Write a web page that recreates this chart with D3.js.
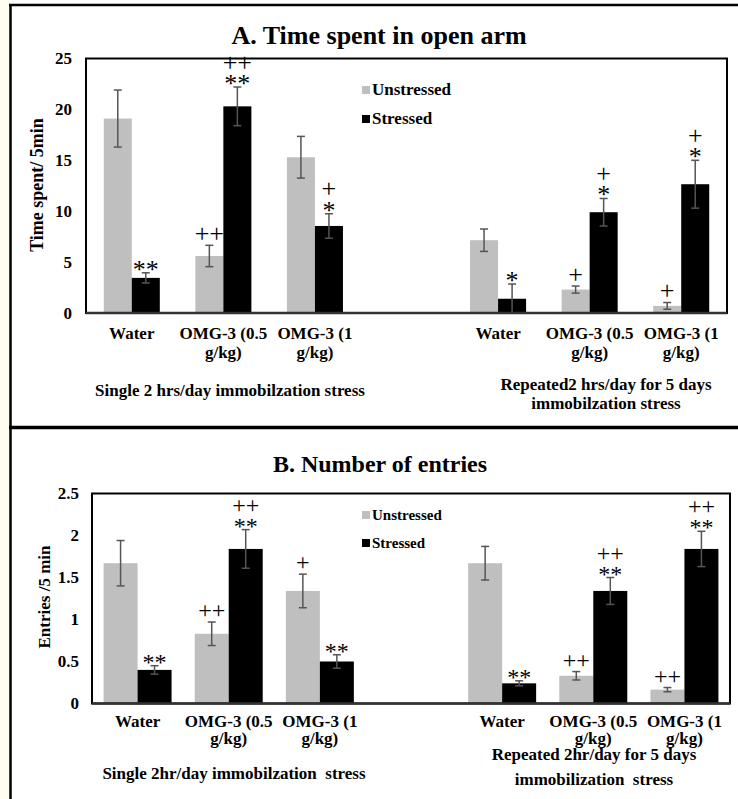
<!DOCTYPE html>
<html lang="en">
<head>
<meta charset="UTF-8">
<title>Time spent in open arm / Number of entries</title>
<script src="https://cdnjs.cloudflare.com/ajax/libs/d3/7.8.5/d3.min.js"></script>
<style>
  body { margin: 0; background: #fff; }
  svg text { font-family: "Liberation Serif", "Times New Roman", serif; white-space: pre; }
</style>
</head>
<body>
<svg id="chart" width="738" height="799"></svg>
<script>
    // categories on the x axis, the empty slot is the gap between the two stress protocols
    const categories = [["Water"], ["OMG-3 (0.5", "g/kg)"], ["OMG-3 (1", "g/kg)"], [],
        ["Water"], ["OMG-3 (0.5", "g/kg)"], ["OMG-3 (1", "g/kg)"]];
    const seriesNames = ["Unstressed", "Stressed"];
    const seriesColors = ["#bfbfbf", "#000000"];

    // A. Time spent in open arm
    const timeUnstressed = [19.1, 5.6, 15.3, null, 7.15, 2.3, 0.7];
    const timeUnstressedErr = [2.8, 1.05, 2.05, null, 1.1, 0.35, 0.33];
    const timeStressed = [3.45, 20.3, 8.55, null, 1.4, 9.9, 12.65];
    const timeStressedErr = [0.5, 1.9, 1.2, null, 1.45, 1.35, 2.35];
    const timeStarsU = ["", "", "", "", "", "", ""];
    const timePlusU = ["", "++", "", "", "", "+", "+"];
    const timeStarsS = ["**", "**", "*", "", "*", "*", "*"];
    const timePlusS = ["", "++", "+", "", "", "+", "+"];
    const timeTicks = [0, 5, 10, 15, 20, 25];
    const timeGroups = [["Single 2 hrs/day immobilzation stress"], ["Repeated2 hrs/day for 5 days", "immobilzation stress"]];

    // B. Number of entries
    const entUnstressed = [1.67, 0.83, 1.34, null, 1.67, 0.33, 0.165];
    const entUnstressedErr = [0.27, 0.14, 0.2, null, 0.2, 0.05, 0.025];
    const entStressed = [0.40, 1.84, 0.50, null, 0.24, 1.34, 1.84];
    const entStressedErr = [0.05, 0.23, 0.08, null, 0.03, 0.16, 0.21];
    const entStarsU = ["", "", "", "", "", "", ""];
    const entPlusU = ["", "++", "+", "", "", "++", "++"];
    const entStarsS = ["**", "**", "**", "", "**", "**", "**"];
    const entPlusS = ["", "++", "", "", "", "++", "++"];
    const entTicks = [0, 0.5, 1, 1.5, 2, 2.5];
    const entGroups = [["Single 2hr/day immobilzation  stress"], ["Repeated 2hr/day for 5 days", "immobilization  stress"]];

    const svg = d3.select("#chart");

    // outer figure frame
    svg.append("rect").attr("x", 0).attr("y", 0).attr("width", 9).attr("height", 799).attr("fill", "#fffdf0");
    svg.append("line").attr("x1", 10.5).attr("x2", 10.5).attr("y1", 4).attr("y2", 799)
        .attr("stroke", "#000").attr("stroke-width", 2.5);
    svg.append("line").attr("x1", 9).attr("x2", 738).attr("y1", 5).attr("y2", 5)
        .attr("stroke", "#000").attr("stroke-width", 2.5);
    svg.append("line").attr("x1", 9).attr("x2", 738).attr("y1", 427.5).attr("y2", 427.5)
        .attr("stroke", "#000").attr("stroke-width", 3.5);

    function drawPanel(p) {
        const g = svg.append("g");

        const x = d3.scaleBand().domain(d3.range(categories.length))
            .range([p.left, p.right]).paddingInner(p.pad).paddingOuter(p.pad / 2);
        const xs = d3.scaleBand().domain([0, 1]).range([0, x.bandwidth()]);
        const y = d3.scaleLinear().domain([0, p.ticks[p.ticks.length - 1]]).range([p.bottom, p.top]);

        // title
        g.append("text").attr("x", p.titleX).attr("y", p.titleY)
            .attr("text-anchor", "middle").attr("font-size", p.titleSize).attr("font-weight", "bold")
            .text(p.title);

        // y axis label
        g.append("text")
            .attr("transform", "translate(" + p.ylabX + "," + p.ylabY + ") rotate(-90)")
            .attr("text-anchor", "middle").attr("font-size", p.ylabSize).attr("font-weight", "bold")
            .text(p.ylabel);

        // bars
        const rows = [];
        categories.forEach(function(c, i) {
            [0, 1].forEach(function(s) {
                if (p.values[s][i] == null) return;
                rows.push({i: i, s: s, v: p.values[s][i], e: p.errors[s][i],
                    stars: p.stars[s][i], plus: p.plus[s][i]});
            });
        });

        g.selectAll("rect.bar").data(rows).enter().append("rect")
            .attr("class", "bar")
            .attr("x", d => x(d.i) + xs(d.s))
            .attr("width", xs.bandwidth())
            .attr("y", d => y(d.v))
            .attr("height", d => y(0) - y(d.v))
            .attr("fill", d => seriesColors[d.s]);

        // error bars
        const eb = g.selectAll("g.err").data(rows).enter().append("g").attr("class", "err")
            .attr("stroke", "#555").attr("stroke-width", 1.5);
        const cx = d => x(d.i) + xs(d.s) + xs.bandwidth() / 2;
        eb.append("line").attr("x1", cx).attr("x2", cx)
            .attr("y1", d => y(Math.max(0, d.v - d.e))).attr("y2", d => y(d.v + d.e));
        eb.append("line").attr("x1", d => cx(d) - 4).attr("x2", d => cx(d) + 4)
            .attr("y1", d => y(d.v + d.e)).attr("y2", d => y(d.v + d.e));
        eb.append("line").attr("x1", d => cx(d) - 4).attr("x2", d => cx(d) + 4)
            .attr("y1", d => y(Math.max(0, d.v - d.e))).attr("y2", d => y(Math.max(0, d.v - d.e)));

        // significance marks
        const fs = p.markSize;
        rows.forEach(function(d) {
            const top = y(d.v + d.e);
            if (d.stars) {
                g.append("text").attr("x", cx(d)).attr("y", top - 7 + 0.46 * fs)
                    .attr("text-anchor", "middle").attr("font-size", fs).text(d.stars);
            }
            if (d.plus) {
                const c = d.stars ? top - 23 : top - 10;
                g.append("text").attr("x", cx(d)).attr("y", c + 0.25 * fs)
                    .attr("text-anchor", "middle").attr("font-size", fs).text(d.plus);
            }
        });

        // plot frame and axes
        g.append("rect").attr("x", p.left).attr("y", p.top)
            .attr("width", p.right - p.left).attr("height", p.bottom - p.top)
            .attr("fill", "none").attr("stroke", "#000").attr("stroke-width", 2);
        g.append("line").attr("x1", p.left).attr("x2", p.right).attr("y1", p.bottom).attr("y2", p.bottom)
            .attr("stroke", "#333").attr("stroke-width", 2.5);

        const yAxis = g.append("g").attr("transform", "translate(" + p.left + ",0)")
            .call(d3.axisLeft(y).tickValues(p.ticks).tickSize(0).tickPadding(p.tickPad)
                .tickFormat(d => String(d)));
        yAxis.select(".domain").remove();
        yAxis.selectAll("text").attr("font-size", 17).attr("font-weight", "bold")
            .attr("fill", "#000").attr("font-family", "Liberation Serif, serif");

        // category labels
        categories.forEach(function(lines, i) {
            lines.forEach(function(t, k) {
                g.append("text").attr("x", x(i) + x.bandwidth() / 2)
                    .attr("y", p.bottom + p.catDy + k * p.catLine)
                    .attr("text-anchor", "middle").attr("font-size", 17).attr("font-weight", "bold")
                    .text(t);
            });
        });

        // protocol labels
        p.groups.forEach(function(lines, j) {
            lines.forEach(function(t, k) {
                g.append("text").attr("x", p.groupPos[j][0]).attr("y", p.groupPos[j][1] + k * p.groupLine)
                    .attr("text-anchor", "middle").attr("font-size", 17).attr("font-weight", "bold")
                    .text(t);
            });
        });

        // legend
        seriesNames.forEach(function(n, s) {
            const ly = p.legendY[s];
            g.append("rect").attr("x", p.legendX).attr("y", ly - 4).attr("width", 8).attr("height", 8)
                .attr("fill", seriesColors[s]);
            g.append("text").attr("x", p.legendX + 10).attr("y", ly + 5)
                .attr("font-size", p.legendSize).attr("font-weight", "bold").text(n);
        });
    }

    drawPanel({
        title: "A. Time spent in open arm", titleX: 379, titleY: 44, titleSize: 26,
        ylabel: "Time spent/ 5min", ylabX: 43, ylabY: 185, ylabSize: 18,
        left: 86, right: 727, top: 58.5, bottom: 313, pad: 0.388, tickPad: 14,
        ticks: timeTicks,
        values: [timeUnstressed, timeStressed], errors: [timeUnstressedErr, timeStressedErr],
        stars: [timeStarsU, timeStarsS], plus: [timePlusU, timePlusS], markSize: 26,
        catDy: 26, catLine: 19,
        groups: timeGroups, groupPos: [[230, 396], [606, 390]], groupLine: 19,
        legendX: 362, legendY: [90, 119], legendSize: 17
    });

    drawPanel({
        title: "B. Number of entries", titleX: 380, titleY: 472, titleSize: 24,
        ylabel: "Entries /5 min", ylabX: 50, ylabY: 597, ylabSize: 17,
        left: 92, right: 730, top: 493.5, bottom: 703.5, pad: 0.254, tickPad: 13,
        ticks: entTicks,
        values: [entUnstressed, entStressed], errors: [entUnstressedErr, entStressedErr],
        stars: [entStarsU, entStarsS], plus: [entPlusU, entPlusS], markSize: 24,
        catDy: 23.5, catLine: 17,
        groups: entGroups, groupPos: [[234, 779], [594, 760]], groupLine: 25,
        legendX: 362, legendY: [515, 543], legendSize: 15
    });
</script>
</body>
</html>
